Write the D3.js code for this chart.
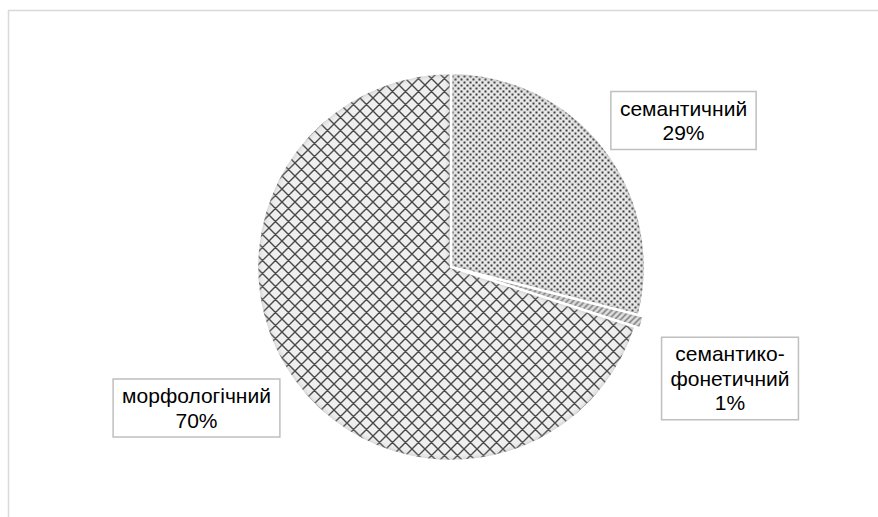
<!DOCTYPE html>
<html>
<head>
<meta charset="utf-8">
<script src="https://cdn.jsdelivr.net/npm/d3@7"></script>
<style>
  body { margin: 0; background: #fff; }
  svg { display: block; }
</style>
</head>
<body>
<div class="chart"></div>
<script>
// data
const categories = ["семантичний", "семантико-фонетичний", "морфологічний"];
const values = [29, 1, 70];
const labelLines = [["семантичний"], ["семантико-", "фонетичний"], ["морфологічний"]];

const width = 878, height = 517;
const cx = 451, cy = 267, radius = 194;

// where Excel put the label boxes (centres)
const labelPos = [[683.5, 120.5], [730, 378.5], [196.5, 408]];
const explode = [0, 5, 0];
const patternIds = ["dots", "diag", "cross"];

const svg = d3.select(".chart")
    .append("svg")
    .attr("width", width)
    .attr("height", height);

const defs = svg.append("defs");

// dotted pattern
const pDots = defs.append("pattern")
    .attr("id", "dots")
    .attr("patternUnits", "userSpaceOnUse")
    .attr("width", 6).attr("height", 6);
pDots.append("rect").attr("width", 6).attr("height", 6).attr("fill", "#e8e8e8");
pDots.append("rect").attr("x", 0.5).attr("y", 0.5).attr("width", 2).attr("height", 2).attr("fill", "#3a3a3a");
pDots.append("rect").attr("x", 3.5).attr("y", 3.5).attr("width", 2).attr("height", 2).attr("fill", "#3a3a3a");

// crosshatch pattern
const pCross = defs.append("pattern")
    .attr("id", "cross")
    .attr("patternUnits", "userSpaceOnUse")
    .attr("width", 13).attr("height", 13);
pCross.append("rect").attr("width", 13).attr("height", 13).attr("fill", "#efefef");
pCross.append("path")
    .attr("d", "M0,0L13,13M13,0L0,13M-3,10L3,16M10,-3L16,3M-3,3L3,-3M10,16L16,10")
    .attr("stroke", "#4a4a4a").attr("stroke-width", 1.4).attr("fill", "none");

// diagonal dashes for the small slice
const pDiag = defs.append("pattern")
    .attr("id", "diag")
    .attr("patternUnits", "userSpaceOnUse")
    .attr("width", 6).attr("height", 6);
pDiag.append("rect").attr("width", 6).attr("height", 6).attr("fill", "#e9e9e9");
pDiag.append("path")
    .attr("d", "M0,6L6,0M-1,1L1,-1M5,7L7,5")
    .attr("stroke", "#666").attr("stroke-width", 1.3);

// inner shadow like Excel's soft edge
const f = defs.append("filter").attr("id", "inner")
    .attr("x", "-10%").attr("y", "-10%").attr("width", "120%").attr("height", "120%");
f.append("feComponentTransfer").attr("in", "SourceAlpha").attr("result", "inv")
    .append("feFuncA").attr("type", "table").attr("tableValues", "1 0");
f.append("feGaussianBlur").attr("in", "inv").attr("stdDeviation", 3).attr("result", "blur");
f.append("feFlood").attr("flood-color", "#9a9a9a").attr("result", "col");
f.append("feComposite").attr("in", "col").attr("in2", "blur").attr("operator", "in").attr("result", "sh");
f.append("feComposite").attr("in", "sh").attr("in2", "SourceAlpha").attr("operator", "in").attr("result", "innerSh");
const fm = f.append("feMerge");
fm.append("feMergeNode").attr("in", "SourceGraphic");
fm.append("feMergeNode").attr("in", "innerSh");

// chart area border
svg.append("rect")
    .attr("x", 8.5).attr("y", 10.5)
    .attr("width", 900).attr("height", 540)
    .attr("fill", "none")
    .attr("stroke", "#d9d9d9")
    .attr("stroke-width", 1.5);

const pie = d3.pie().sort(null).value(d => d);
const arcs = pie(values);
const arc = d3.arc().innerRadius(0).outerRadius(radius);

const g = svg.append("g").attr("transform", `translate(${cx},${cy})`);

const slice = g.selectAll("g.slice")
    .data(arcs)
    .join("g")
    .attr("class", "slice")
    .attr("transform", (d, i) => {
        const a = (d.startAngle + d.endAngle) / 2;
        return `translate(${Math.sin(a) * explode[i]},${-Math.cos(a) * explode[i]})`;
    });

slice.append("path")
    .attr("d", arc)
    .attr("fill", (d, i) => `url(#${patternIds[i]})`)
    .attr("filter", "url(#inner)");

slice.append("path")
    .attr("d", arc)
    .attr("fill", "none")
    .attr("stroke", "#fff")
    .attr("stroke-width", 2.5)
    .attr("stroke-linejoin", "round");

// labels
const fontSize = 21, lineH = 24.5;
const labels = svg.append("g")
    .selectAll("g")
    .data(arcs)
    .join("g")
    .attr("transform", (d, i) => `translate(${labelPos[i][0]},${labelPos[i][1]})`);

labels.each(function (d, i) {
    const sel = d3.select(this);
    const lines = labelLines[i].concat([d3.format(".0f")(values[i]) + "%"]);
    const box = sel.append("rect")
        .attr("fill", "#fff")
        .attr("stroke", "#bfbfbf")
        .attr("stroke-width", 1.5);
    const t = sel.append("text")
        .attr("font-family", "Liberation Sans, Arial, sans-serif")
        .attr("font-size", fontSize + "px")
        .attr("fill", "#000")
        .attr("text-anchor", "middle");
    const y0 = -(lines.length - 1) * lineH / 2;
    lines.forEach((s, k) => {
        t.append("tspan")
            .attr("x", 0)
            .attr("y", y0 + k * lineH)
            .attr("dy", "0.35em")
            .text(s);
    });
    const w = t.node().getBBox().width + 18;
    const h = lines.length * lineH + 9;
    box.attr("x", -w / 2).attr("y", -h / 2).attr("width", w).attr("height", h);
});
</script>
</body>
</html>
